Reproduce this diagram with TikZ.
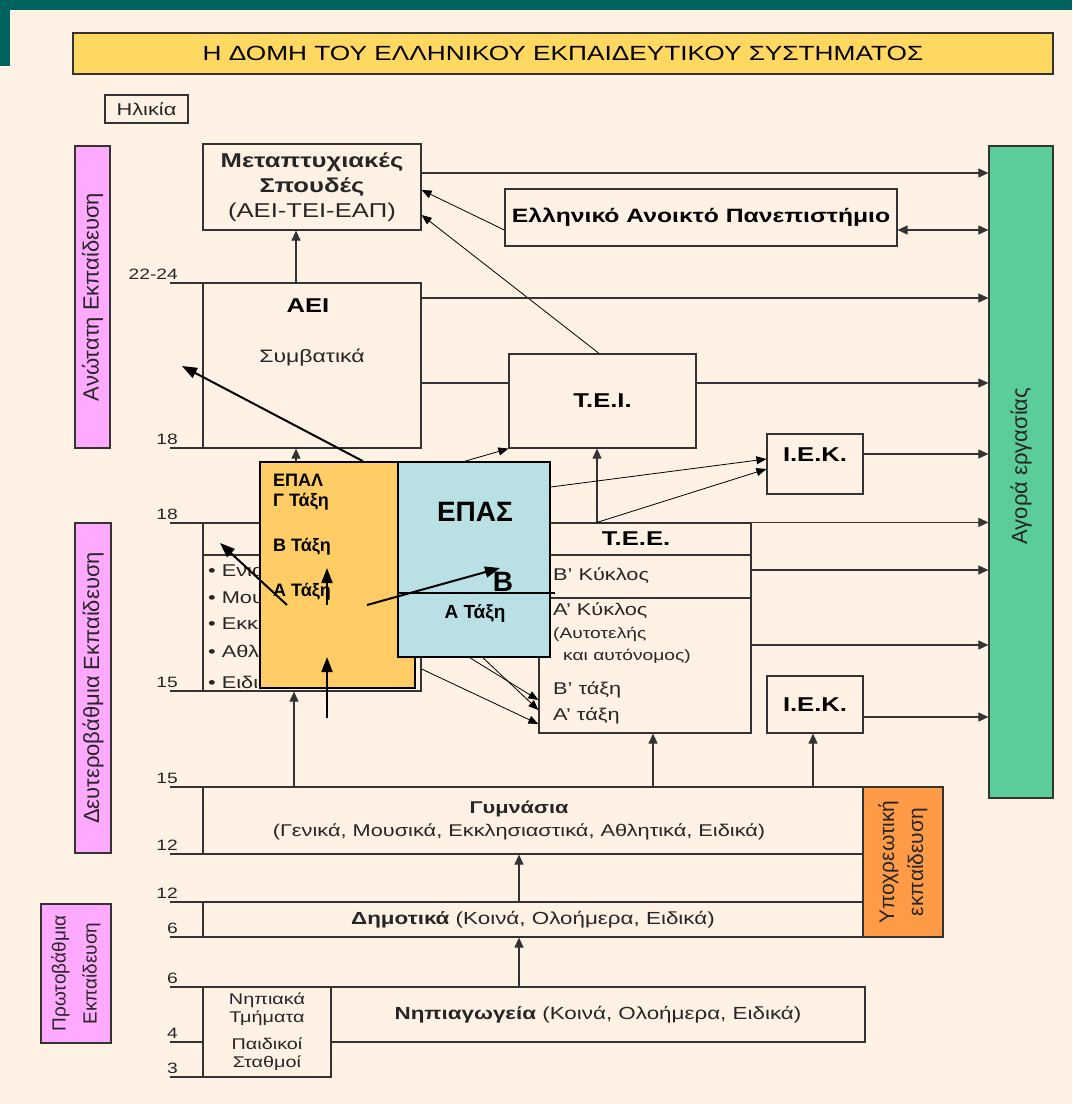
\documentclass[tikz,border=0pt]{standalone}
\usepackage{fontspec}
\setmainfont{Liberation Sans}[FakeStretch=1.28]
\newfontfamily\plainsans{Liberation Sans}
\usetikzlibrary{arrows.meta}

\definecolor{bgcream}{HTML}{FFF1E3}
\definecolor{topteal}{HTML}{00625F}
\definecolor{titlegold}{HTML}{FFD862}
\definecolor{sidepink}{HTML}{FFAAFF}
\definecolor{agoragreen}{HTML}{5BCD98}
\definecolor{epalorange}{HTML}{FFCC66}
\definecolor{epasblue}{HTML}{B9E0E4}
\definecolor{ypoorange}{HTML}{FF9B47}
\definecolor{linegray}{HTML}{333333}

\newcommand{\bodysize}{\fontsize{17}{21}\selectfont}
\newcommand{\headsize}{\fontsize{20}{24}\selectfont\bfseries}
\newcommand{\smallsize}{\fontsize{15}{18}\selectfont}
\newcommand{\agesize}{\fontsize{15}{18}\selectfont}
\newcommand{\titlesize}{\fontsize{20.5}{23}\selectfont}
\newcommand{\sidesize}{\plainsans\fontsize{22}{30}\selectfont}
\newcommand{\overlaysize}{\plainsans\bfseries\fontsize{18}{21}\selectfont}
\newcommand{\epassize}{\plainsans\bfseries\fontsize{28}{30}\selectfont}

\tikzset{
  box/.style={draw=linegray, line width=1.2pt, inner sep=0pt, align=center, font=\bodysize, text=black!85},
  sidebox/.style={box, fill=sidepink, rotate=90, font=\sidesize},
  txt/.style={inner sep=0pt, align=center, font=\bodysize, text=black!85},
  agelbl/.style={anchor=south east, inner sep=0pt, font=\agesize, text=black!85},
  rule/.style={draw=linegray, line width=1.2pt},
  flow/.style={-{Triangle[length=10pt,width=9pt]}, draw=linegray, line width=1.1pt},
  flowboth/.style={{Triangle[length=10pt,width=9pt]}-{Triangle[length=10pt,width=9pt]}, draw=linegray, line width=1.1pt},
  flowthin/.style={-{Triangle[length=10pt,width=8pt]}, draw=black, line width=0.8pt},
  flowbig/.style={-{Triangle[length=15pt,width=11pt]}, draw=black, line width=2pt},
}

\begin{document}
\begin{tikzpicture}[x=1pt, y=-1pt]
    \useasboundingbox (0,0) rectangle (1072,1104);
    \fill[bgcream] (0,0) rectangle (1072,1104);
    \fill[topteal] (0,0) rectangle (1072,10);
    \fill[topteal] (0,0) rectangle (10,66);

    % header
    \node[box, fill=titlegold, line width=1.5pt, minimum width=980, minimum height=41, font=\titlesize, text=black] (title) at (563,53.5) {Η ΔΟΜΗ ΤΟΥ ΕΛΛΗΝΙΚΟΥ ΕΚΠΑΙΔΕΥΤΙΚΟΥ ΣΥΣΤΗΜΑΤΟΣ};
    \node[box, minimum width=83, minimum height=28] (age) at (146.5,109) {Ηλικία};

    % levels on the left
    \node[sidebox, minimum width=302, minimum height=35] (higher) at (92.5,297) {Ανώτατη Εκπαίδευση};
    \node[sidebox, minimum width=330, minimum height=36] (second) at (93,688) {Δευτεροβάθμια Εκπαίδευση};
    \node[sidebox, minimum width=139, minimum height=70, font=\plainsans\fontsize{19}{31}\selectfont] (primary) at (76,973.5) {Πρωτοβάθμια\\Εκπαίδευση};

    % labour market
    \node[box, fill=agoragreen, minimum width=64, minimum height=652] (agora) at (1021,472) {};
    \node[txt, rotate=90, font=\sidesize] (agoratext) at (1021,466) {Αγορά εργασίας};

    % higher education
    \node[box, minimum width=218, minimum height=86, font=\fontsize{20}{25}\selectfont] (metapt) at (312,187) {\textbf{Μεταπτυχιακές}\\\textbf{Σπουδές}\\(ΑΕΙ-ΤΕΙ-ΕΑΠ)};
    \node[box, minimum width=392, minimum height=57, font=\fontsize{19.3}{23}\selectfont\bfseries, text=black] (eap) at (701,217.5) {Ελληνικό Ανοικτό Πανεπιστήμιο};
    \node[box, minimum width=218, minimum height=165] (aei) at (312,365.5) {};
    \node[txt, font=\headsize, text=black] (aeiname) at (308,306) {ΑΕΙ};
    \node[txt, font=\fontsize{18}{21}\selectfont] (aeitype) at (312,358) {Συμβατικά};
    \node[box, minimum width=187, minimum height=94, font=\headsize, text=black] (tei) at (602.5,401) {Τ.Ε.Ι.};
    \node[box, minimum width=96, minimum height=60] (iek1) at (815,464) {};
    \node[txt, font=\headsize, text=black] (iek1name) at (815,455) {Ι.Ε.Κ.};

    % secondary education
    \node[box, minimum width=218, minimum height=168] (lyk) at (312,607) {};
    \draw[rule] (203,555) -- (421,555);
    \node[txt, anchor=west] (lyk1) at (208,570) {\textbullet\ Ενιαία};
    \node[txt, anchor=west] (lyk2) at (208,597) {\textbullet\ Μουσικά};
    \node[txt, anchor=west] (lyk3) at (208,625) {\textbullet\ Εκκλησιαστικά};
    \node[txt, anchor=west] (lyk4) at (208,653) {\textbullet\ Αθλητικά};
    \node[txt, anchor=west] (lyk5) at (208,682) {\textbullet\ Ειδικά};

    \node[box, minimum width=212, minimum height=210] (tee) at (645,628) {};
    \draw[rule] (539,555) -- (751,555);
    \draw[rule] (539,598) -- (751,598);
    \node[txt, font=\headsize, text=black] (teename) at (636,539) {Τ.Ε.Ε.};
    \node[txt, anchor=west] (tee2) at (553,576) {Β' Κύκλος};
    \node[txt, anchor=west] (tee1) at (553,611) {Α' Κύκλος};
    \node[txt, anchor=west, font=\smallsize] (tee1a) at (553,634) {(Αυτοτελής};
    \node[txt, anchor=west, font=\smallsize] (tee1b) at (563,656) {και αυτόνομος)};
    \node[txt, anchor=west] (teeB) at (553,690) {Β' τάξη};
    \node[txt, anchor=west] (teeA) at (553,716) {Α' τάξη};
    \node[box, minimum width=96, minimum height=57, font=\headsize, text=black] (iek2) at (815,704.5) {Ι.Ε.Κ.};

    % compulsory education
    \node[box, minimum width=660, minimum height=67] (gym) at (533,820.5) {};
    \node[txt, font=\fontsize{17}{23}\selectfont] (gymtext) at (519,820) {\textbf{Γυμνάσια}\\(Γενικά, Μουσικά, Εκκλησιαστικά, Αθλητικά, Ειδικά)};
    \node[box, minimum width=660, minimum height=35, font=\fontsize{17.5}{21}\selectfont] (dim) at (533,919.5) {\textbf{Δημοτικά} (Κοινά, Ολοήμερα, Ειδικά)};
    \node[box, fill=ypoorange, rotate=90, minimum width=150, minimum height=80, font=\plainsans\fontsize{21}{29}\selectfont] (ypo) at (903,862) {Υποχρεωτική\\εκπαίδευση};
    \node[box, minimum width=534, minimum height=55, font=\fontsize{17.5}{21}\selectfont] (nip) at (598,1014.5) {\textbf{Νηπιαγωγεία} (Κοινά, Ολοήμερα, Ειδικά)};
    \node[box, minimum width=128, minimum height=90] (paid) at (267,1032) {};
    \node[txt, font=\fontsize{15.5}{18}\selectfont] (paid1) at (267,1009) {Νηπιακά\\Τμήματα};
    \node[txt, font=\fontsize{15.5}{18}\selectfont] (paid2) at (267,1054) {Παιδικοί\\Σταθμοί};

    % ages
    \foreach \yy/\yrs [count=\i] in {283/22-24, 448/18, 523/18, 691/15, 787/15, 854/12, 902/12, 937/6, 987/6, 1042/4, 1077/3} {
        \draw[rule] (170,\yy) -- (203,\yy);
        \node[agelbl] (yrs\i) at (178,\yy-3) {\yrs};
    }

    % connectors
    \draw[flow] ([xshift=-16pt]aei.north) -- ([xshift=-16pt]metapt.south);
    \draw[flow] ([yshift=14pt]metapt.east) -- ([yshift=14pt]metapt.east -| agora.west);
    \draw[flowboth] ([yshift=-12.5pt]eap.east) -- ([yshift=-12.5pt]eap.east -| agora.west);
    \draw[flowthin] ([yshift=-12.5pt]eap.west) -- ([yshift=-3pt]metapt.east);
    \draw[flowthin] ([xshift=-3.5pt]tei.north) -- ([yshift=-28pt]metapt.east);
    \draw[flow] ([yshift=67.5pt]aei.east) -- ([yshift=67.5pt]aei.east -| agora.west);
    \draw[rule] ([yshift=-17.5pt]aei.east) -- ([yshift=-17.5pt]aei.east -| tei.west);
    \draw[flow] ([yshift=18pt]tei.east) -- ([yshift=18pt]tei.east -| agora.west);
    \draw[flow] ([yshift=10pt]iek1.east) -- ([yshift=10pt]iek1.east -| agora.west);
    \draw[flow] (tee.north east) -- (tee.north east -| agora.west);
    \draw[flow] ([yshift=58pt]tee.east) -- ([yshift=58pt]tee.east -| agora.west);
    \draw[flow] ([yshift=-17pt]tee.east) -- ([yshift=-17pt]tee.east -| agora.west);
    \draw[flow] ([yshift=-12.5pt]iek2.east) -- ([yshift=-12.5pt]iek2.east -| agora.west);

    \draw[flow] ([xshift=-48pt]tee.north) -- ([xshift=-48pt]tee.north |- tei.south);
    \draw[flowthin] ([xshift=-48pt]tee.north) -- ([yshift=-5pt]iek1.west);
    \draw[flow] ([xshift=-16pt]lyk.north) -- ([xshift=-16pt]aei.south);

    \draw[flow] ([xshift=-239pt]gym.north) -- ([xshift=-239pt]gym.north |- lyk.south);
    \draw[flow] ([xshift=120pt]gym.north) -- ([xshift=120pt]gym.north |- tee.south);
    \draw[flow] ([xshift=280pt]gym.north) -- ([xshift=280pt]gym.north |- iek2.south);
    \draw[flow] ([xshift=-14pt]dim.north) -- ([xshift=-14pt]dim.north |- gym.south);
    \draw[flow] ([xshift=-79pt]nip.north) -- ([xshift=-79pt]nip.north |- dim.south);

    % EPAL and EPAS on top
    \node[box, draw=black, fill=epalorange, line width=1.6pt, minimum width=155, minimum height=226] (epal) at (337.5,575) {};
    \node[txt, anchor=west, font=\overlaysize, text=black] (epalname) at (273,480) {ΕΠΑΛ};
    \node[txt, anchor=west, font=\overlaysize, text=black] (epalC) at (273,502) {Γ Τάξη};
    \node[txt, anchor=west, font=\overlaysize, text=black] (epalB) at (273,547) {Β Τάξη};
    \node[txt, anchor=west, font=\overlaysize, text=black] (epalA) at (273,592) {Α Τάξη};

    \node[box, draw=black, fill=epasblue, line width=1.6pt, minimum width=152, minimum height=195] (epas) at (474,559.5) {};
    \node[txt, font=\epassize, text=black] (epasname) at (475,512) {ΕΠΑΣ};
    \node[txt, font=\epassize, text=black] (epasB) at (503,582) {Β};
    \node[txt, font=\plainsans\bfseries\fontsize{19}{22}\selectfont, text=black] (epasA) at (475,613) {Α Τάξη};
    \draw[draw=black, line width=1.4pt] (398,593) -- (555,593);

    \draw[flowthin] ([xshift=-9pt]epas.north) -- (tei.south west);
    \draw[flowthin] ([yshift=72.5pt]epas.east) -- ([yshift=5pt]iek1.west);
    \draw[flowthin] ([xshift=-4pt]epas.south) -- ([yshift=-72pt]tee.west);
    \draw[flowthin] ([xshift=9pt]epas.south) -- ([yshift=-82pt]tee.west);
    \draw[flowthin] ([yshift=-62pt]lyk.east) -- ([yshift=-96pt]tee.west);

    % thick arrows
    \coordinate (aeipoint) at (182,366);
    \coordinate (epalstart) at (287,605);
    \coordinate (lykpoint) at (220,543);
    \coordinate (midstart) at (327,605);
    \coordinate (midtip) at (327,568);
    \coordinate (lowstart) at (327,718);
    \coordinate (lowtip) at (327,657);
    \coordinate (rightstart) at (367,605);
    \coordinate (epaspoint) at (500,568);
    \draw[flowbig] ([xshift=25.5pt]epal.north) -- (aeipoint);
    \draw[flowbig] (epalstart) -- (lykpoint);
    \draw[flowbig] (midstart) -- (midtip);
    \draw[flowbig] (lowstart) -- (lowtip);
    \draw[flowbig] (rightstart) -- (epaspoint);

  \end{tikzpicture}
\end{document}
